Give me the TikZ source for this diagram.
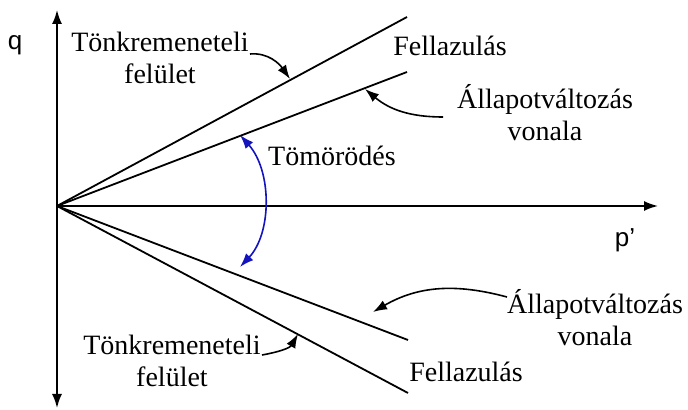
\documentclass[tikz,border=0pt]{standalone}
\usepackage{fontspec}
\setmainfont{Liberation Serif}
\setsansfont{Liberation Sans}
\newfontfamily\labelfont{Liberation Serif}
\usepackage{tikz}
\usetikzlibrary{arrows.meta}
\definecolor{arcblue}{RGB}{20,20,190}

\tikzset{
  axis/.style={line width=0.9pt, -{Latex[length=7pt,width=5pt]}},
  yield/.style={line width=0.9pt},
  pointer/.style={line width=0.8pt, -{Latex[length=7pt,width=5pt]}},
  lbl/.style={font=\labelfont\fontsize{14}{16}\selectfont, align=center, inner sep=0pt},
  axlbl/.style={font=\sffamily\fontsize{13}{15}\selectfont, inner sep=0pt}
}

\begin{document}
\begin{tikzpicture}[x=0.5pt, y=0.5pt]
  \useasboundingbox (-57,-204) rectangle (631,206);

  % axes
  \coordinate (O) at (0,0);
  \coordinate (qtop) at (0,196);
  \coordinate (qbot) at (0,-202);
  \coordinate (pend) at (601,0);
  \draw[axis, {Latex[length=7pt,width=5pt]}-{Latex[length=7pt,width=5pt]}] (qbot) -- (qtop);
  \draw[axis] (O) -- (pend);
  \node[axlbl] (q) at (-42,161) {q};
  \node[axlbl] (p) at (568,-34) {p'};

  % lines from the origin
  \coordinate (fu) at (350,189);
  \coordinate (au) at (350,134);
  \coordinate (al) at (351,-134);
  \coordinate (fl) at (351,-187);
  \draw[yield] (O) -- (fu);
  \draw[yield] (O) -- (au);
  \draw[yield] (O) -- (al);
  \draw[yield] (O) -- (fl);

  % upper labels
  \node[lbl] (tonku) at (103,148) {Tönkremeneteli\\felület};
  \node[lbl] (fellu) at (393,160) {Fellazulás};
  \node[lbl] (allu) at (488,93) {Állapotváltozás\\vonala};
  \coordinate (tonku-s) at (193,152);
  \coordinate (tonku-t) at (233,127);
  \coordinate (allu-s) at (386,89);
  \coordinate (allu-t) at (308,117);
  \draw[pointer] (tonku-s) to[out=5, in=125] (tonku-t);
  \draw[pointer] (allu-s) to[out=180, in=-40] (allu-t);

  % compaction
  \node[lbl] (tomor) at (275,50) {Tömörödés};
  \coordinate (arcu) at (183,71);
  \coordinate (arcl) at (183,-61);
  \draw[arcblue, line width=0.8pt, {Latex[length=7pt,width=5pt]}-{Latex[length=7pt,width=5pt]}]
    (arcu) .. controls +(32,-36) and +(32,34) .. (arcl);

  % lower labels
  \node[lbl] (tonkl) at (115,-155) {Tönkremeneteli\\felület};
  \node[lbl] (felll) at (409,-166) {Fellazulás};
  \node[lbl] (alll) at (538,-112) {Állapotváltozás\\vonala};
  \coordinate (tonkl-s) at (205,-149);
  \coordinate (tonkl-t) at (241,-128);
  \coordinate (alll-s) at (450,-91);
  \coordinate (alll-t) at (316,-106);
  \draw[pointer] (tonkl-s) to[out=10, in=-120] (tonkl-t);
  \draw[pointer] (alll-s) to[out=165, in=30] (alll-t);
\end{tikzpicture}
\end{document}
